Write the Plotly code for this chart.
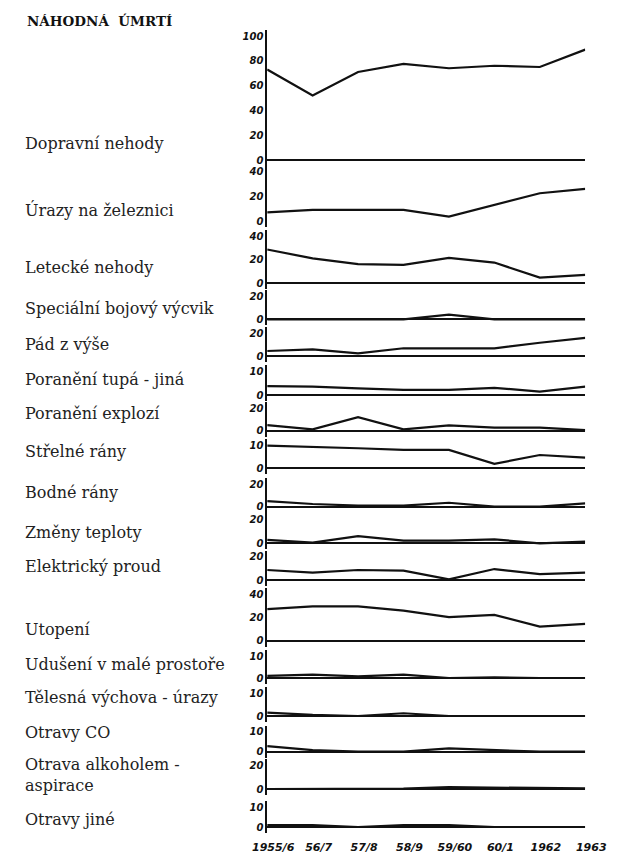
import plotly.graph_objects as go

# ---------------- data ----------------
periods = ["1955/6", "56/7", "57/8", "58/9", "59/60", "60/1", "1962", "1963"]

causes = [
    "Dopravní nehody",
    "Úrazy na železnici",
    "Letecké nehody",
    "Speciální bojový výcvik",
    "Pád z výše",
    "Poranění tupá - jiná",
    "Poranění explozí",
    "Střelné rány",
    "Bodné rány",
    "Změny teploty",
    "Elektrický proud",
    "Utopení",
    "Udušení v malé prostoře",
    "Tělesná výchova - úrazy",
    "Otravy CO",
    "Otrava alkoholem -<br>aspirace",
    "Otravy jiné",
]

dopravni = [73, 52, 71, 77.5, 74, 76, 75, 89]
zeleznice = [7, 9, 9, 9, 3.5, 13, 22.5, 26]
letecke = [28.5, 21, 16, 15.4, 21.4, 17.4, 4.6, 7]
specialni = [0, 0, 0, 0, 4, 0, 0, 0]
pad = [4.4, 5.9, 2.3, 6.8, 6.8, 6.8, 11.7, 16]
tupa = [3.7, 3.5, 2.8, 2.1, 2.1, 3, 1.4, 3.5]
exploze = [5, 1.2, 12, 1.2, 4.8, 2.7, 2.7, 0.6]
strelne = [9.7, 9.3, 8.6, 7.9, 7.9, 1.9, 5.7, 4.6]
bodne = [5, 2.4, 1, 1, 3.5, 0, 0, 3]
teplota = [2.8, 0.5, 6, 2.2, 2.2, 3.3, 0, 1.4]
proud = [8.6, 6.3, 8.6, 8, 0.6, 9.4, 5.1, 6.3]
utopeni = [27.3, 29.6, 29.6, 26, 20.3, 22.3, 12.2, 14.5]
uduseni = [1, 1.5, 0.7, 1.5, 0, 0.3, 0, 0]
telesna = [1.5, 0.5, 0, 1.2, 0, 0, 0, 0]
otravy_co = [2.8, 0.8, 0, 0, 1.7, 0.8, 0, 0]
alkohol = [0, 0, 0, 0.3, 1.5, 1.2, 1, 0.5]
otravy_jine = [1, 1, 0, 1, 1, 0, 0, 0]

series = [dopravni, zeleznice, letecke, specialni, pad, tupa, exploze, strelne,
          bodne, teplota, proud, utopeni, uduseni, telesna, otravy_co, alkohol,
          otravy_jine]

top_ticks = [100, 40, 40, 20, 20, 10, 20, 10, 20, 20, 20, 40, 10, 10, 10, 20, 10]
tick_steps = [20, 20, 20, 20, 20, 10, 20, 10, 20, 20, 20, 20, 10, 10, 10, 20, 10]

# ---------------- layout (pixel geometry) ----------------
W, H = 627, 859
zero_px = [160, 221, 283, 319.3, 356, 395, 430.7, 468.3, 506.7, 543.3, 580,
           640.7, 678, 716, 751.7, 789, 827]
top_px = [36, 171.7, 236, 296, 333.3, 371, 408.3, 445, 484, 519.3, 556.7,
          594.3, 656, 693, 731.7, 765, 807]
show_zero = [True, False] + [True] * 15
label_px = [143, 210, 268, 308, 344, 380, 413, 451, 492.5, 532.5, 566, 629.5,
            664.5, 697.5, 732.5, 774.5, 819.5]

x_left, x_right = 268, 606
PADPX = 6

fig = go.Figure()
layout = dict(
    width=W, height=H,
    margin=dict(l=0, r=0, t=0, b=0),
    paper_bgcolor="white", plot_bgcolor="rgba(0,0,0,0)",
    showlegend=False,
    font=dict(family="DejaVu Serif", color="#111"),
)

tickfont = dict(family="DejaVu Sans", size=10, color="#111", weight="bold", style="italic")

for i, vals in enumerate(series):
    n = i + 1
    yname = "y" if n == 1 else f"y{n}"
    lname = "yaxis" if n == 1 else f"yaxis{n}"
    fig.add_trace(go.Scatter(
        x=list(range(len(periods))), y=vals, mode="lines",
        line=dict(color="#111", width=2.2),
        xaxis="x", yaxis=yname, hoverinfo="skip",
    ))
    T = top_ticks[i]
    z, t = zero_px[i], top_px[i]
    ppu = (z - t) / T
    rmin = -PADPX / ppu
    rmax = T + PADPX / ppu
    d0 = 1 - (z + PADPX) / H
    d1 = 1 - (t - PADPX) / H
    tv = list(range(0, T + 1, tick_steps[i]))
    layout[lname] = dict(
        domain=[d0, d1], range=[rmin, rmax], anchor="x",
        showline=True, linecolor="#111", linewidth=1.6,
        showgrid=False, ticks="",
        tickvals=tv, ticktext=[str(v) for v in tv],
        tickfont=tickfont,
        zeroline=show_zero[i], zerolinecolor="#111", zerolinewidth=2,
        fixedrange=True,
    )

layout["xaxis"] = dict(
    domain=[x_left / W, x_right / W], range=[0, len(periods) - 1],
    anchor="free", position=1 - 839 / H,
    showline=False, showgrid=False, zeroline=False, ticks="",
    tickvals=list(range(len(periods))), ticktext=periods,
    tickfont=dict(family="DejaVu Sans", size=11, color="#111", weight="bold", style="italic"),
    ticklabelshift=6, ticklabeloverflow="allow", fixedrange=True,
)

annotations = [dict(
    text="<b>NÁHODNÁ  ÚMRTÍ</b>", x=11 / W, y=1 - 21 / H, xref="paper", yref="paper",
    xanchor="left", yanchor="middle", showarrow=False,
    font=dict(family="DejaVu Serif", size=13.5, color="#111"),
)]
for i, name in enumerate(causes):
    annotations.append(dict(
        text=name, x=9 / W, y=1 - label_px[i] / H, xref="paper", yref="paper",
        xanchor="left", yanchor="middle", align="left", showarrow=False,
        font=dict(family="DejaVu Serif", size=16, color="#222"),
    ))
layout["annotations"] = annotations

fig.update_layout(**layout)
fig.write_html("out.html", post_script="document.body.style.margin='0';",
               config={"displayModeBar": False})
